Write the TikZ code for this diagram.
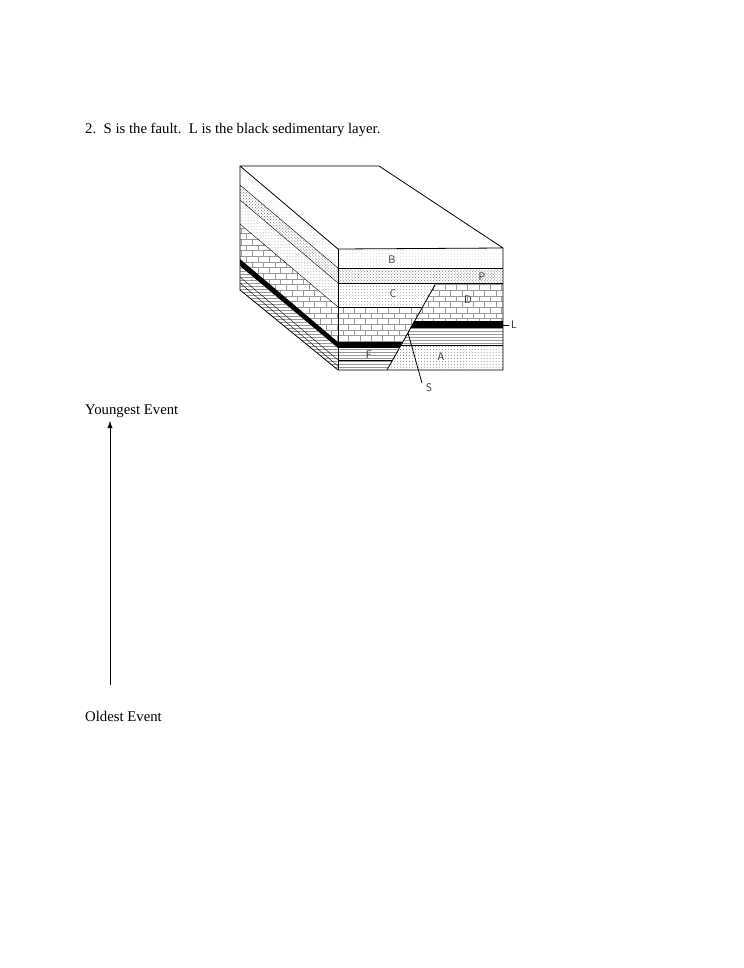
\documentclass[tikz,border=0pt]{standalone}
\usepackage{fontspec}
\setmainfont{Liberation Serif}
\usetikzlibrary{patterns,positioning,arrows.meta}
\tikzset{
    x=1bp, y=-1bp,
    caption/.style = { anchor=west, inner sep=0pt, font=\fontsize{14.8}{17}\selectfont },
    tag/.style = { inner sep=0pt, font=\sffamily\fontsize{11}{13}\selectfont, text=black!80 },
    edge/.style = { draw, thick, line join=round },
    sand/.style = { pattern=dots, pattern color=black!35 },
    gravel/.style = { pattern=crosshatch dots, pattern color=black!55 },
    lime/.style = { pattern=bricks, pattern color=black!40 },
    shale/.style = { pattern=horizontal lines, pattern color=black!40 },
    blackbed/.style = { fill=black }
}
\begin{document}
\begin{tikzpicture}
    \useasboundingbox (0,0) rectangle (744,968);

    % title
    \node[caption] (title) at (85,130) {2.\ \ S is the fault.\ \ L is the black sedimentary layer.};

    % front face, hanging wall (left of fault)
    \begin{scope}
        \clip (338,283) -- (435,283) -- (387,370) -- (338,370) -- cycle;
        \fill[sand] (338,283) rectangle (503,307);
        \fill[lime] (338,307) rectangle (503,343);
        \fill[blackbed] (338,342) rectangle (503,348);
        \fill[shale] (338,348) rectangle (503,370);
        \draw (338,307) -- (503,307);
        \draw (338,360) -- (503,360);
    \end{scope}
    % front face, footwall (right of fault)
    \begin{scope}
        \clip (435,283) -- (503,283) -- (503,370) -- (387,370) -- cycle;
        \fill[lime] (338,283) rectangle (503,322);
        \fill[blackbed] (338,321) rectangle (503,328);
        \fill[shale] (338,328) rectangle (503,345);
        \fill[pattern=dots, pattern color=black!55] (338,345) rectangle (503,370);
        \draw (338,345) -- (503,345);
    \end{scope}
    % B and P beds across the front
    \fill[sand, pattern color=black!15] (338,249) rectangle (503,268);
    \fill[gravel] (338,268) rectangle (503,283);
    \draw (338,268) -- (503,268);
    \draw (338,283) -- (503,283);

    % left side face
    \begin{scope}
        \clip (240,166) -- (338,249) -- (338,370) -- (240,290) -- cycle;
        \fill[sand, pattern color=black!15] (240,166) -- (338,249) -- (338,268) -- (240,185) -- cycle;
        \fill[gravel] (240,185) -- (338,268) -- (338,283) -- (240,200) -- cycle;
        \fill[sand] (240,200) -- (338,283) -- (338,307) -- (240,224) -- cycle;
        \fill[lime] (240,224) -- (338,307) -- (338,342) -- (240,259) -- cycle;
        \fill[blackbed] (240,259) -- (338,342) -- (338,348) -- (240,266) -- cycle;
        \fill[shale] (240,266) -- (338,348) -- (338,370) -- (240,290) -- cycle;
        \foreach \y in {185,200,224,277,283} {
            \draw (240,\y) -- (338,\y+83);
        }
    \end{scope}

    % block outline
    \draw[edge] (240,166) -- (379,166) -- (503,248) -- (338,249) -- cycle;
    \draw[edge] (240,166) -- (240,290) -- (338,370) -- (503,370) -- (503,248);
    \draw[edge] (338,249) -- (338,370);

    % fault
    \draw[thick] (435,285) -- (387,370);
    \coordinate (sfoot) at (408,333);
    \coordinate (send) at (422,383);
    \draw[thick] (sfoot) -- (send);
    \coordinate (lfoot) at (503,325);
    \coordinate (lend) at (509,325);
    \draw[thick] (lfoot) -- (lend);

    % bed labels
    \node[tag] (B) at (392,260) {B};
    \node[tag] (P) at (482,277) {P};
    \node[tag] (C) at (393,294) {C};
    \node[tag] (D) at (468,300) {D};
    \node[tag] (F) at (369,355) {F};
    \node[tag] (A) at (441,357) {A};
    \node[tag] (S) at (429,388) {S};
    \node[tag] (L) at (514,325) {L};

    % time axis
    \node[caption] (young) at (85,411) {Youngest Event};
    \node[caption] (old) at (85,716) {Oldest Event};
    \coordinate (bottom) at (110,685);
    \coordinate (top) at (110,421);
    \draw[-{Latex[length=7bp,width=5bp]}] (bottom) -- (top);
\end{tikzpicture}
\end{document}
